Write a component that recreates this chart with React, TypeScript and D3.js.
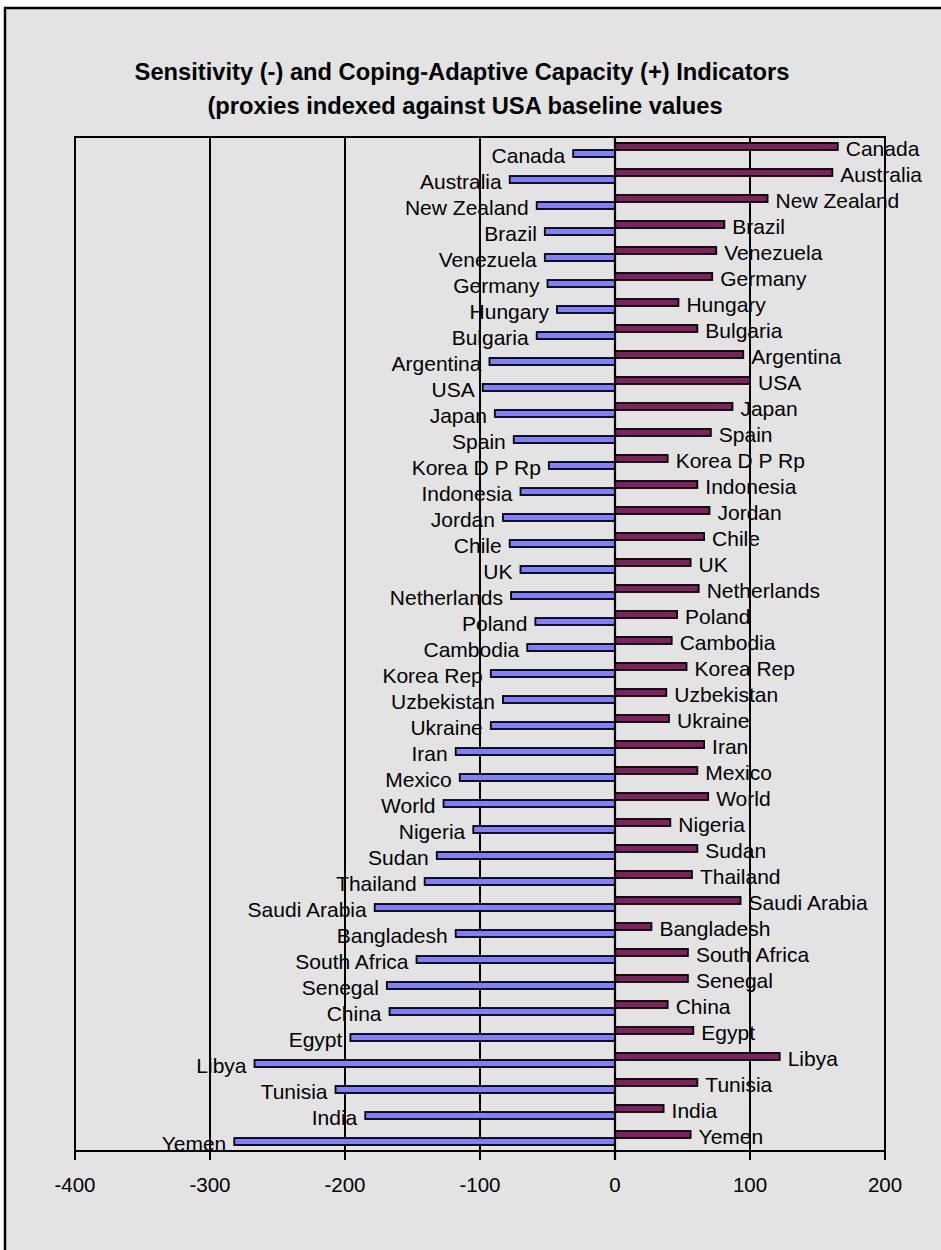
import React from 'react';
import * as d3 from 'd3';

const categories = [
  'Canada', 'Australia', 'New Zealand', 'Brazil', 'Venezuela', 'Germany', 'Hungary', 'Bulgaria',
  'Argentina', 'USA', 'Japan', 'Spain', 'Korea D P Rp', 'Indonesia', 'Jordan', 'Chile', 'UK',
  'Netherlands', 'Poland', 'Cambodia', 'Korea Rep', 'Uzbekistan', 'Ukraine', 'Iran', 'Mexico',
  'World', 'Nigeria', 'Sudan', 'Thailand', 'Saudi Arabia', 'Bangladesh', 'South Africa', 'Senegal',
  'China', 'Egypt', 'Libya', 'Tunisia', 'India', 'Yemen',
];

// coping-adaptive capacity (+)
const capacity = [
  165, 161, 113, 81, 75, 72, 47, 61,
  95, 100, 87, 71, 39, 61, 70, 66, 56,
  62, 46, 42, 53, 38, 40, 66, 61,
  69, 41, 61, 57, 93, 27, 54, 54,
  39, 58, 122, 61, 36, 56,
];

// sensitivity (-)
const sensitivity = [
  -31, -78, -58, -52, -52, -50, -43, -58,
  -93, -98, -89, -75, -49, -70, -83, -78, -70,
  -77, -59, -65, -92, -83, -92, -118, -115,
  -127, -105, -132, -141, -178, -118, -147, -169,
  -167, -196, -267, -207, -185, -282,
];

const xTicks = [-400, -300, -200, -100, 0, 100, 200];

const W = 941;
const H = 1250;
const plot = { left: 75, right: 885, top: 137, bottom: 1151 };
const FONT = 'Arial, "Liberation Sans", sans-serif';

const App: React.FC = () => {
  const x = d3.scaleLinear().domain([-400, 200]).range([plot.left, plot.right]);
  const y = d3.scaleBand<string>()
    .domain(categories)
    .range([plot.top, plot.bottom])
    .paddingInner(0.46)
    .paddingOuter(0.23);
  const sub = d3.scaleBand<string>().domain(['cap', 'sens']).range([0, y.bandwidth()]);

  return (
    <svg width={W} height={H} style={{ position: 'absolute', left: 0, top: 0 }} fontFamily={FONT}>
      <rect width={W} height={H} fill="#ffffff" />
      {/* chart frame */}
      <rect x={5} y={8} width={W + 20} height={H + 20} fill="#e3e3e3" stroke="#000" strokeWidth={2.5} />

      {/* title */}
      <text x={462} y={80} textAnchor="middle" fontSize={23.7} fontWeight="bold">
        Sensitivity (-) and Coping-Adaptive Capacity (+) Indicators
      </text>
      <text x={465} y={114} textAnchor="middle" fontSize={23.7} fontWeight="bold">
        (proxies indexed against USA baseline values
      </text>

      {/* gridlines */}
      {xTicks.filter(t => t !== 0).map(t => (
        <line key={t} x1={x(t)} x2={x(t)} y1={plot.top} y2={plot.bottom} stroke="#000" strokeWidth={2} />
      ))}
      <rect x={plot.left} y={plot.top} width={plot.right - plot.left} height={plot.bottom - plot.top}
        fill="none" stroke="#000" strokeWidth={2} />

      {/* bars */}
      {categories.map((c, i) => (
        <g key={c}>
          <rect x={x(0)} y={(y(c) as number) + (sub('cap') as number)}
            width={x(capacity[i]) - x(0)} height={sub.bandwidth()}
            fill="#80205f" stroke="#000" strokeWidth={1.8} />
          <rect x={x(sensitivity[i])} y={(y(c) as number) + (sub('sens') as number)}
            width={x(0) - x(sensitivity[i])} height={sub.bandwidth()}
            fill="#8080ff" stroke="#000" strokeWidth={1.8} />
        </g>
      ))}

      {/* value axis / zero line */}
      <line x1={x(0)} x2={x(0)} y1={plot.top} y2={plot.bottom + 9} stroke="#000" strokeWidth={2.2} />
      <line x1={plot.left} x2={plot.right} y1={plot.bottom} y2={plot.bottom} stroke="#000" strokeWidth={2} />
      {xTicks.map(t => (
        <g key={t}>
          <line x1={x(t)} x2={x(t)} y1={plot.bottom} y2={plot.bottom + 9} stroke="#000" strokeWidth={2} />
          <text x={x(t)} y={plot.bottom + 41} textAnchor="middle" fontSize={20.5} fill="#000">{t}</text>
        </g>
      ))}

      {/* data labels */}
      {categories.map((c, i) => (
        <g key={'l' + c} fontSize={21} fill="#000">
          <text x={x(capacity[i]) + 8}
            y={(y(c) as number) + (sub('cap') as number) + sub.bandwidth() / 2 + 2}
            dy="0.35em">{c}</text>
          <text x={x(sensitivity[i]) - 8} textAnchor="end"
            y={(y(c) as number) + (sub('sens') as number) + sub.bandwidth() / 2 + 2}
            dy="0.35em">{c}</text>
        </g>
      ))}
    </svg>
  );
};

export default App;
